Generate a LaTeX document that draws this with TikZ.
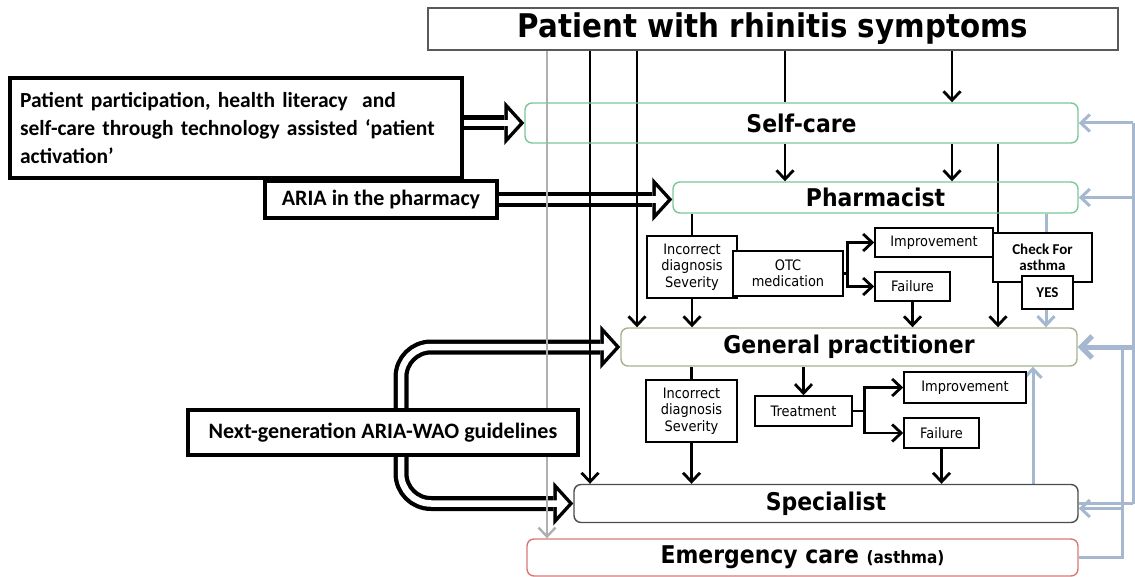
\documentclass[tikz,border=0pt]{standalone}
\usepackage{fontspec}
\usepackage{tikz}
\usetikzlibrary{positioning,arrows.meta,backgrounds}

\newfontfamily\boxfont{DejaVu Sans}[FakeStretch=0.9]
\newfontfamily\notefont{Carlito}

\definecolor{scgreen}{RGB}{125,198,155}
\definecolor{gpgreen}{RGB}{165,180,140}
\definecolor{emred}{RGB}{215,120,120}
\definecolor{flowblue}{RGB}{165,184,208}
\definecolor{topgrey}{RGB}{175,175,175}

% outlined double arrow: black body, white core
\newcommand{\fatflow}[1]{%
  \draw[fatout] #1;
  \draw[fatin] #1;}

\begin{document}
\begin{tikzpicture}[
  x=1pt, y=-1pt, >={Straight Barb[length=9pt,width=17pt]},
  stage/.style={draw, rounded corners=7pt, line width=1.4pt, inner sep=0pt,
    font=\boxfont\bfseries\fontsize{24.4}{28}\selectfont},
  side/.style={draw, line width=4.5pt, fill=white, inner sep=0pt,
    font=\notefont\bfseries\fontsize{22}{28}\selectfont},
  sbox/.style={draw, line width=1.6pt, fill=white, inner sep=0pt, align=center,
    font=\boxfont\fontsize{14.4}{16.5}\selectfont},
  cbox/.style={sbox, font=\notefont\bfseries\fontsize{15}{16.5}\selectfont},
  flow/.style={line width=2.8pt, ->},
  feedback/.style={flowblue, line width=3pt},
  fatout/.style={line width=15pt, rounded corners=30pt,
    -{Triangle[length=20pt,width=44pt,line width=0pt]}},
  fatin/.style={white, line width=6.5pt, rounded corners=30pt, shorten >=4.7pt,
    -{Triangle[length=11.8pt,width=26pt,line width=0pt]}}
]
\useasboundingbox (0,0) rectangle (1135,577);

% levels of care
\node[stage, draw=black!65, rounded corners=0pt, font=\boxfont\bfseries\fontsize{32.6}{36}\selectfont,
  minimum width=690pt, minimum height=42pt] (patient) at (773,29) {Patient with rhinitis symptoms};
\node[stage, draw=scgreen, minimum width=553pt, minimum height=40pt] (selfcare) at (801.5,123) {Self-care};
\node[stage, draw=scgreen, minimum width=405pt, minimum height=31pt] (pharm) at (875.5,197.5) {Pharmacist};
\node[stage, draw=gpgreen, minimum width=456pt, minimum height=38pt] (gp) at (849,347) {General practitioner};
\node[stage, draw=black!70, minimum width=504pt, minimum height=38pt] (spec) at (826,503.5) {Specialist};
\node[stage, draw=emred, minimum width=551pt, minimum height=37pt] (emerg) at (802.5,557.5)
  {Emergency care {\fontsize{17}{20}\selectfont(asthma)}};

% side inputs
\node[side, align=left, font=\notefont\bfseries\fontsize{21.5}{28}\selectfont,
  text width=432pt, inner xsep=10pt, minimum height=100pt] (partic) at (236,128)
  {Patient participation, health literacy~ and\\self-care through technology assisted ‘patient\\activation’};
\node[side, minimum width=232pt, minimum height=37pt] (aria) at (381,199.5) {ARIA in the pharmacy};
\node[side, minimum width=390pt, minimum height=45pt] (nextgen) at (383,432.5) {Next-generation ARIA-WAO guidelines};

% pharmacy level
\node[sbox, minimum width=90pt, minimum height=62pt] (incor1) at (692,267) {Incorrect\\diagnosis\\Severity};
\node[sbox, minimum width=110pt, minimum height=45pt] (otc) at (788,273.5) {OTC\\medication};
\node[sbox, minimum width=118pt, minimum height=29pt] (impr1) at (934,242.5) {Improvement};
\node[sbox, minimum width=75pt, minimum height=29pt] (fail1) at (912.5,286.5) {Failure};
\node[cbox, minimum width=99pt, minimum height=49pt] (check) at (1042.5,257.5) {Check For\\asthma};
\node[cbox, minimum width=51pt, minimum height=33pt] (yes) at (1047.5,292.5) {YES};

% GP level
\node[sbox, minimum width=91pt, minimum height=62pt] (incor2) at (691.5,411) {Incorrect\\diagnosis\\Severity};
\node[sbox, minimum width=97pt, minimum height=30pt] (treat) at (803.5,411) {Treatment};
\node[sbox, minimum width=122pt, minimum height=31pt] (impr2) at (965,387.5) {Improvement};
\node[sbox, minimum width=75pt, minimum height=30pt] (fail2) at (941.5,433) {Failure};

% columns
\coordinate (cgrey) at (547,0);
\coordinate (cspec) at (590,0);
\coordinate (cgp) at (637,0);
\coordinate (csc) at (785,0);
\coordinate (csc2) at (952,0);
\coordinate (cgp2) at (998,0);
\coordinate (cblue) at (1046,0);
\coordinate (cup) at (1033,0);
\coordinate (bend) at (401,432);
\coordinate (outx) at (1133,0);
\coordinate (inx) at (1122,0);
\coordinate (edge) at (1135,0);
\coordinate (specin) at ([yshift=-5pt]spec.east);

\begin{scope}[on background layer]
\fatflow{(partic.east |- selfcare.west) -- (selfcare.west)}
\fatflow{(aria.east) -- (aria.east -| pharm.west)}
\fatflow{(bend) |- (gp.west)}
\fatflow{(bend) |- (spec.west)}

% from the patient
\draw[topgrey, line width=2.4pt, ->] (patient.south -| cgrey) -- (emerg.north -| cgrey);
\draw[flow] (patient.south -| cspec) -- (spec.north -| cspec);
\draw[flow] (patient.south -| cgp) -- (gp.north -| cgp);
\draw[line width=2.8pt] (patient.south -| csc) -- (selfcare.north -| csc);
\draw[flow] (patient.south -| csc2) -- (selfcare.north -| csc2);

% self-care and pharmacist
\draw[flow] (selfcare.south -| csc) -- (pharm.north -| csc);
\draw[flow] (selfcare.south -| csc2) -- (pharm.north -| csc2);
\draw[flow] (selfcare.south -| cgp2) -- (gp.north -| cgp2);
\draw[line width=2.8pt] (pharm.south -| incor1) -- (incor1.north);
\draw[flow] (incor1.south) -- (gp.north -| incor1.south);
\draw[flow] (otc.east) -- ++(4,0) |- (impr1.west);
\draw[flow] (otc.east) -- ++(4,0) |- (fail1.west);
\draw[flow] (fail1.south) -- (gp.north -| fail1.south);
\draw[feedback, ->] (pharm.south -| cblue) -- (gp.north -| cblue);

% GP
\draw[line width=2.8pt] (gp.south -| incor2) -- (incor2.north);
\draw[flow] (incor2.south) -- (spec.north -| incor2.south);
\draw[flow] (gp.south -| treat) -- (treat.north);
\draw[flow] (treat.east) -- ++(12,0) |- (impr2.west);
\draw[flow] (treat.east) -- ++(12,0) |- (fail2.west);
\draw[flow] (fail2.south) -- (spec.north -| fail2.south);
\draw[feedback, ->] (spec.north -| cup) -- (gp.south -| cup);

% feedback on the right
\draw[feedback] (selfcare.east -| outx) -- (spec.east -| outx);
\draw[feedback, ->] (selfcare.east -| outx) -- (selfcare.east);
\draw[feedback, ->] (pharm.east -| outx) -- (pharm.east);
\draw[feedback] (spec.east -| outx) -- (spec.east);
\draw[feedback, line width=5pt, -{Straight Barb[length=11pt,width=22pt]}] (gp.east -| edge) -- (gp.east);
\draw[feedback] (emerg.east) -| (gp.east -| inx);
\draw[feedback, ->] (specin -| inx) -- (specin);
\end{scope}
\end{tikzpicture}
\end{document}
